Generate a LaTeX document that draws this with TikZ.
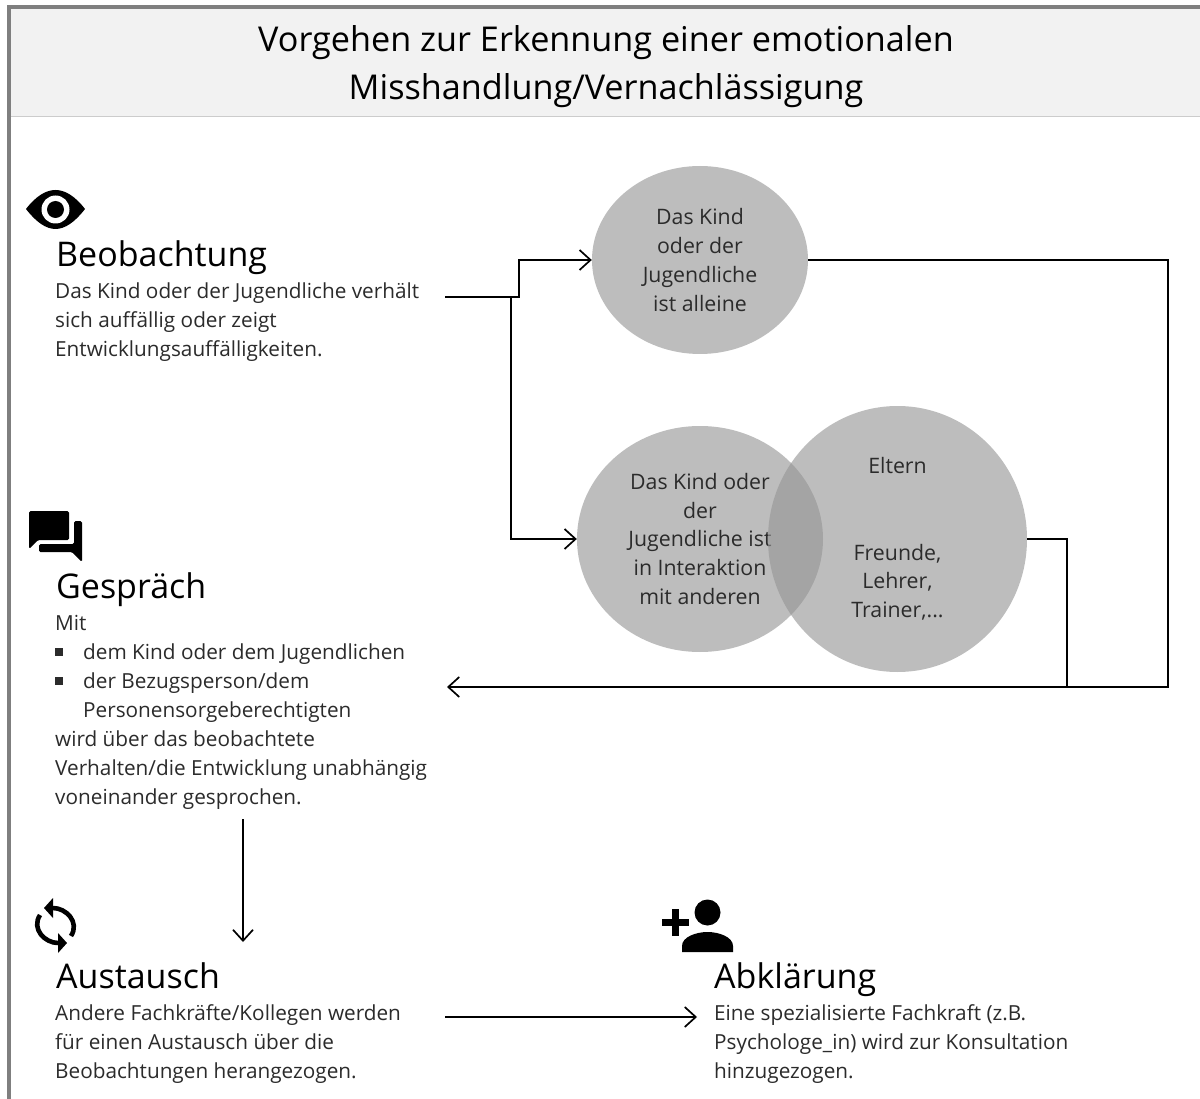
\documentclass[tikz,border=0pt]{standalone}
\usepackage{fontspec}
\setmainfont{Open Sans}
\usetikzlibrary{shapes.geometric,arrows.meta}
\definecolor{circlegray}{HTML}{959595}
\definecolor{framegray}{HTML}{7F7F7F}
\definecolor{bodygray}{HTML}{2B2B2B}
\newcommand{\bulletsq}{\raisebox{3.5pt}{\rule{8pt}{8pt}}\hspace{20pt}}
\begin{document}
\begin{tikzpicture}[x=1pt,y=-1pt,
    titletext/.style={font=\fontsize{34.2}{48}\selectfont,align=center,inner sep=0pt},
    headtext/.style={font=\fontsize{34}{38}\selectfont,anchor=base west,inner sep=0pt},
    bodytext/.style={font=\fontsize{20.75}{29}\selectfont,text=bodygray,align=left,anchor=north west,inner sep=0pt},
    blob/.style={ellipse,fill=circlegray,fill opacity=.615,text opacity=1,inner sep=0pt,
      font=\fontsize{21.3}{28.7}\selectfont,text=bodygray,align=center},
    conn/.style={draw=black,line width=1.8pt},
    tip/.style={-{Straight Barb[length=11pt,width=20pt,line width=1.7pt]}}]
          \useasboundingbox (0,0) rectangle (1200,1099);
          \fill[white] (0,0) rectangle (1200,1099);
          % header and frame
          \fill[black!5] (10,8) rectangle (1200,117);
          \draw[black!20,line width=1pt] (10,117) -- (1200,117);
          \draw[framegray,line width=3.5pt] (9,1099) -- (9,7) -- (1200,7);
          \node[titletext] (title) at (606,67) {Vorgehen zur Erkennung einer emotionalen\\Misshandlung/Vernachlässigung};
          % left column
          \node[headtext] (beohead) at (56,267) {Beobachtung};
          \node[bodytext] (beotext) at (55,283) {Das Kind oder der Jugendliche verhält\\sich auffällig oder zeigt\\Entwicklungsauffälligkeiten.};
          \node[headtext] (geshead) at (56,598) {Gespräch};
          \node[bodytext] (gestext) at (55,615) {Mit\\\bulletsq dem Kind oder dem Jugendlichen\\\bulletsq der Bezugsperson/dem\\\hspace*{28pt}Personensorgeberechtigten\\wird über das beobachtete\\Verhalten/die Entwicklung unabhängig\\voneinander gesprochen.};
          \node[headtext] (aushead) at (56,988) {Austausch};
          \node[bodytext] (austext) at (55,1004) {Andere Fachkräfte/Kollegen werden\\für einen Austausch über die\\Beobachtungen herangezogen.};
          \node[headtext] (abkhead) at (714,988) {Abklärung};
          \node[bodytext] (abktext) at (714,1004) {Eine spezialisierte Fachkraft (z.B.\\Psychologe\_in) wird zur Konsultation\\hinzugezogen.};
          % circles
          \node[blob,minimum width=216pt,minimum height=188pt] (alleine) at (700,260) {Das Kind\\oder der\\Jugendliche\\ist alleine};
          \node[blob,minimum width=246pt,minimum height=226pt] (interaktion) at (700,539) {Das Kind oder\\der\\Jugendliche ist\\in Interaktion\\mit anderen};
          \node[blob,minimum width=259pt,minimum height=266pt] (eltern) at (897.5,539) {Eltern\\[57.4pt]Freunde,\\Lehrer,\\Trainer,...};
          % free ends
          \coordinate (beoout) at (445,297);
          \coordinate (gesin) at (447,687);
          \coordinate (gesout) at (243,819);
          \coordinate (ausin) at (243,942);
          \coordinate (ausout) at (445,1017);
          \coordinate (abkin) at (697,1017);
          \coordinate (joint) at (1067,687);
          % connectors
          \draw[conn,tip] (beoout) -- (519,297) -- (519,260) -- (alleine.west);
          \draw[conn,tip] (511,297) -- (511,539) -- (interaktion.west);
          \draw[conn,tip] (alleine.east) -- (1168,260) -- (1168,687) -- (gesin);
          \draw[conn] (eltern.east) -- (1067,539) -- (joint);
          \draw[conn,tip] (gesout) -- (ausin);
          \draw[conn,tip] (ausout) -- (abkin);
          % eye
          \fill[black] (26,209) .. controls (36,196) and (46,190) .. (55.5,190) .. controls (65,190) and (75,196) .. (85,209) .. controls (75,222) and (65,229) .. (55.5,229) .. controls (46,229) and (36,222) .. (26,209) -- cycle;
          \fill[white] (55.5,209.5) circle (14);
          \fill[black] (55.5,209.5) circle (8.5);
          % chat
          \fill[black,rounded corners=1.5pt] (29,549) -- (29,511) -- (69,511) -- (69,540) -- (38,540) -- cycle;
          \fill[black,rounded corners=1.5pt] (74,521) -- (82,521) -- (82,562) -- (72,552) -- (39,552) -- (39,544) -- (74,544) -- cycle;
          % sync
          \draw[black,line width=4.6pt] (53,908) .. controls (66,908) and (80,922) .. (71,936);
          \fill[black] (44,908) -- (53,898) -- (53,918) -- cycle;
          \draw[black,line width=4.6pt] (58,943) .. controls (45,943) and (31,929) .. (40,915);
          \fill[black] (67,943) -- (58,933) -- (58,953) -- cycle;
          % person
          \fill[black] (707.5,912.5) circle (13);
          \fill[black] (682,952) -- (682,946) .. controls (682,937) and (696,932) .. (707.5,932) .. controls (719,932) and (733,937) .. (733,946) -- (733,952) -- cycle;
          \fill[black] (672,909) rectangle (679,936);
          \fill[black] (662,919) rectangle (689,926);
        \end{tikzpicture}
\end{document}
